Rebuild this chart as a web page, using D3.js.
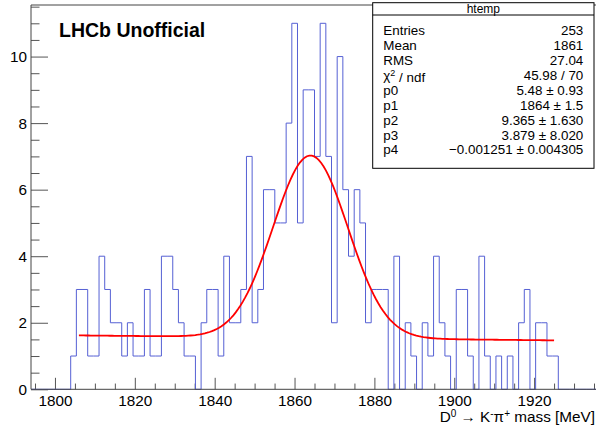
<!DOCTYPE html>
<html>
<head>
<meta charset="utf-8">
<script src="https://cdn.jsdelivr.net/npm/d3@7"></script>
<style>
  html, body { margin: 0; padding: 0; background: #fff; }
  svg { display: block; font-family: "Liberation Sans", Arial, Helvetica, sans-serif; }
</style>
</head>
<body>
<div id="chart"></div>
<script>
// ---------------- data ----------------
const histRange = [1794, 1936];           // histogram x range (100 bins)
const histCounts = [
  0,0,0,0,0,0,0, 1,3,3,1,1,4,3,2,2,1,2,1,1,
  3,1,1,4,4,3,2,1,1,0, 2,3,3,1,4,2,2,3,7,2,
  3,6,6,5,5,8,11,5,9,9, 7,11,7,2,10,6,4,6,5,2,
  3,3,3,0,4,0,2,1,0,2, 1,4,2,1,0,3,3,1,0,4,
  1,0,1,0,1,0,2,3,0,2,2,1,1, 0,0,0,0,0,0,0
];
const fitParams = [5.48, 1864, 9.365, 3.879, -0.001251]; // gaus(p0,p1,p2) + pol1(p3,p4)
const fitRange = [1806, 1925];
const yMax = 11.55;
const xMajorTicks = [1800, 1820, 1840, 1860, 1880, 1900, 1920];
const yMajorTicks = [0, 2, 4, 6, 8, 10];
const statsTitle = "htemp";
const statsNames = ["Entries", "Mean", "RMS", "χ2 / ndf", "p0", "p1", "p2", "p3", "p4"];
const statsValues = ["253", "1861", "27.04", "45.98 / 70", "5.48 ± 0.93", "1864 ± 1.5",
                     "9.365 ± 1.630", "3.879 ± 8.020", "\u22120.001251 ± 0.004305"];
const labelText = "LHCb Unofficial";

// ---------------- layout ----------------
const W = 596, H = 428;
const frame = { left: 31, right: 598, top: 5, bottom: 389.3 };

const svg = d3.select("#chart").append("svg").attr("width", W).attr("height", H);

const x = d3.scaleLinear().domain(histRange).range([frame.left, frame.right]);
const y = d3.scaleLinear().domain([0, yMax]).range([frame.bottom, frame.top]);

const nb = histCounts.length;
const bw = (histRange[1] - histRange[0]) / nb;
const edges = d3.range(nb + 1).map(i => histRange[0] + i * bw);

// minor ticks
const xMinor = d3.range(1795, 1936, 5).filter(v => !xMajorTicks.includes(v));
const yMinor = d3.range(0, yMax, 0.5).filter(v => !yMajorTicks.includes(v));

const gx1 = svg.append("g").attr("transform", `translate(0,${frame.bottom})`)
  .call(d3.axisBottom(x).tickValues(xMinor).tickSizeInner(-5.75).tickSizeOuter(0).tickFormat(""));
const gx2 = svg.append("g").attr("transform", `translate(0,${frame.bottom})`)
  .call(d3.axisBottom(x).tickValues(xMajorTicks).tickSizeInner(-11.5).tickSizeOuter(0).tickPadding(6).tickFormat(d3.format("d")));
const gy1 = svg.append("g").attr("transform", `translate(${frame.left},0)`)
  .call(d3.axisLeft(y).tickValues(yMinor).tickSizeInner(-8.5).tickSizeOuter(0).tickFormat(""));
const gy2 = svg.append("g").attr("transform", `translate(${frame.left},0)`)
  .call(d3.axisLeft(y).tickValues(yMajorTicks).tickSizeInner(-17).tickSizeOuter(0).tickPadding(4).tickFormat(d3.format("d")));

[gx1, gx2, gy1, gy2].forEach(g => {
  g.select(".domain").remove();
  g.selectAll(".tick line").attr("stroke", "#555").attr("stroke-width", 1);
  g.selectAll(".tick text").attr("fill", "#000").attr("font-size", 15.3)
    .attr("font-family", "Liberation Sans, Arial, sans-serif");
});

// histogram outline
let path = d3.path();
path.moveTo(x(edges[0]), y(0));
histCounts.forEach((c, i) => {
  path.lineTo(x(edges[i]), y(c));
  path.lineTo(x(edges[i + 1]), y(c));
});
path.lineTo(x(edges[nb]), y(0));
svg.append("path").attr("d", path.toString())
  .attr("fill", "none").attr("stroke", "#5560d4").attr("stroke-width", 1);

// fit function
const fitFn = v => fitParams[0] * Math.exp(-0.5 * Math.pow((v - fitParams[1]) / fitParams[2], 2))
                   + fitParams[3] + fitParams[4] * v;
const fx = d3.range(0, 201).map(i => fitRange[0] + (fitRange[1] - fitRange[0]) * i / 200);
svg.append("path")
  .attr("d", d3.line().x(d => x(d)).y(d => y(fitFn(d)))(fx))
  .attr("fill", "none").attr("stroke", "#ff0000").attr("stroke-width", 1.8);

// frame
svg.append("path")
  .attr("d", `M${frame.left},${frame.bottom}V${frame.top}H${frame.right}V${frame.bottom}Z`)
  .attr("fill", "none").attr("stroke", "#444").attr("stroke-width", 1);

// LHCb label
svg.append("text").attr("x", 59).attr("y", 36.7)
  .attr("font-size", 19.5).attr("font-weight", "bold").attr("fill", "#000").text(labelText);

// x axis title
const xt = svg.append("text").attr("x", 595).attr("y", 422).attr("text-anchor", "end")
  .attr("font-size", 15.3).attr("fill", "#000");
xt.append("tspan").text("D");
xt.append("tspan").attr("dy", -5).attr("font-size", 10).text("0");
xt.append("tspan").attr("dy", 5).text(" \u2192 K");
xt.append("tspan").attr("dy", -5).attr("font-size", 10).text("-");
xt.append("tspan").attr("dy", 5).text("\u03c0");
xt.append("tspan").attr("dy", -5).attr("font-size", 10).text("+");
xt.append("tspan").attr("dy", 5).text(" mass [MeV]");

// stats box
const sb = { left: 372.7, right: 594, top: 2.7, header: 15, bottom: 168.3 };
svg.append("rect").attr("x", sb.left).attr("y", sb.top)
  .attr("width", sb.right - sb.left).attr("height", sb.bottom - sb.top)
  .attr("fill", "#fff").attr("stroke", "#000").attr("stroke-width", 1);
svg.append("line").attr("x1", sb.left).attr("x2", sb.right).attr("y1", sb.header).attr("y2", sb.header)
  .attr("stroke", "#000").attr("stroke-width", 1);
svg.append("text").attr("x", (sb.left + sb.right) / 2).attr("y", (sb.top + sb.header) / 2)
  .attr("dy", "0.35em").attr("text-anchor", "middle").attr("font-size", 12).text(statsTitle);
const rowY0 = 30.6, rowDy = 14.9;
statsNames.forEach((n, i) => {
  const t = svg.append("text").attr("x", 383.3).attr("y", rowY0 + i * rowDy).attr("dy", "0.35em")
    .attr("font-size", 13.4).attr("fill", "#000");
  if (n.startsWith("χ2")) {
    t.append("tspan").text("χ");
    t.append("tspan").attr("dy", "-0.45em").attr("font-size", 9).text("2");
    t.append("tspan").attr("dy", "0.45em").text(" / ndf");
  } else {
    t.text(n);
  }
  svg.append("text").attr("x", 583.3).attr("y", rowY0 + i * rowDy).attr("dy", "0.35em")
    .attr("text-anchor", "end").attr("font-size", 13.4).attr("fill", "#000").text(statsValues[i]);
});
</script>
</body>
</html>
